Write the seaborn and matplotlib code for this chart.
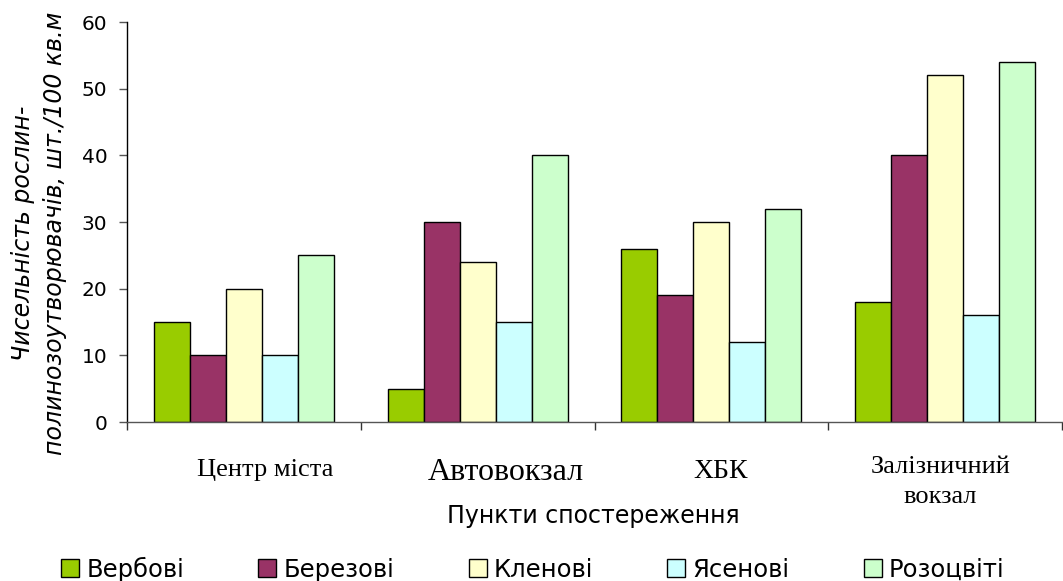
import matplotlib
matplotlib.use("Agg")
import matplotlib.pyplot as plt
import seaborn as sns
import pandas as pd

# Observation sites and plant groups
sites = ["Центр міста", "Автовокзал", "ХБК", "Залізничний\nвокзал"]
groups = ["Вербові", "Березові", "Кленові", "Ясенові", "Розоцвіті"]

# Number of plants per 100 sq. m, one list per plant group (in site order)
verbovi = [15, 5, 26, 18]
berezovi = [10, 30, 19, 40]
klenovi = [20, 24, 30, 52]
yasenovi = [10, 15, 12, 16]
rozotsviti = [25, 40, 32, 54]

yticks = [0, 10, 20, 30, 40, 50, 60]
colors = ["#99CC00", "#993366", "#FFFFCC", "#CCFFFF", "#CCFFCC"]

series = [verbovi, berezovi, klenovi, yasenovi, rozotsviti]
rows = []
for g, vals in zip(groups, series):
    for s, v in zip(sites, vals):
        rows.append({"site": s, "group": g, "count": v})
df = pd.DataFrame(rows)

sns.set_theme(style="white")
plt.rcParams["font.family"] = ["DejaVu Sans"]
plt.rcParams["text.color"] = "black"
plt.rcParams["axes.labelcolor"] = "black"
plt.rcParams["xtick.color"] = "black"
plt.rcParams["ytick.color"] = "black"

fig = plt.figure(figsize=(10.63, 5.81), dpi=100)
ax = fig.add_axes([127 / 1063, 1 - 422 / 581, 935 / 1063, 400 / 581])

sns.barplot(data=df, x="site", y="count", hue="group", order=sites,
            hue_order=groups, palette=colors, width=0.77, gap=0,
            edgecolor="black", linewidth=1.0, saturation=1, ax=ax)

ax.set_xlim(-0.5, len(sites) - 0.5)
ax.set_ylim(0, 60)
ax.set_yticks(yticks)
ax.set_yticklabels([str(t) for t in yticks], fontsize=14.5, color="black")

# Ticks on the category boundaries, labels drawn separately
ax.set_xticks([i - 0.5 for i in range(len(sites) + 1)])
ax.set_xticklabels([])
ax.tick_params(axis="x", direction="out", length=6, width=1, color="#333333", bottom=True)
ax.tick_params(axis="y", direction="out", length=6, width=1, color="#555555", left=True, pad=8)

for side in ["top", "right"]:
    ax.spines[side].set_visible(False)
ax.spines["left"].set_color("black")
ax.spines["bottom"].set_color("#555555")
ax.spines["left"].set_linewidth(1)
ax.spines["bottom"].set_linewidth(1)

# Category labels in a serif face
label_dx = [0.09, 0.12, 0.04, -0.02]
label_size = [19, 23, 20, 19]
label_y = [-0.12, -0.125, -0.125, -0.15]
for i, (s, dx, fs, yy) in enumerate(zip(sites, label_dx, label_size, label_y)):
    ax.text(i + dx, yy, s, transform=ax.get_xaxis_transform(), ha="center",
            va="center", fontsize=fs, family=["Liberation Serif"],
            linespacing=1.45, color="black")

ax.set_xlabel("")
ax.set_ylabel("")
fig.text(593 / 1063, 1 - 516 / 581, "Пункти спостереження", ha="center",
         va="center", fontsize=17)
fig.text(39 / 1063, 1 - 233 / 581,
         "Чисельність рослин-\nполинозоутворювачів, шт./100 кв.м",
         rotation=90, ha="center", va="center", fontsize=17, style="italic",
         linespacing=1.4)

handles, labels = ax.get_legend_handles_labels()
ax.get_legend().remove()
fig.legend(handles, labels, loc="center", bbox_to_anchor=(533 / 1063, 1 - 569 / 581),
           ncol=5, frameon=False, fontsize=17.5, handlelength=0.74,
           handleheight=0.74, handletextpad=0.3, columnspacing=3.05,
           borderaxespad=0)

fig.savefig("out.png", dpi=100, facecolor="white")
